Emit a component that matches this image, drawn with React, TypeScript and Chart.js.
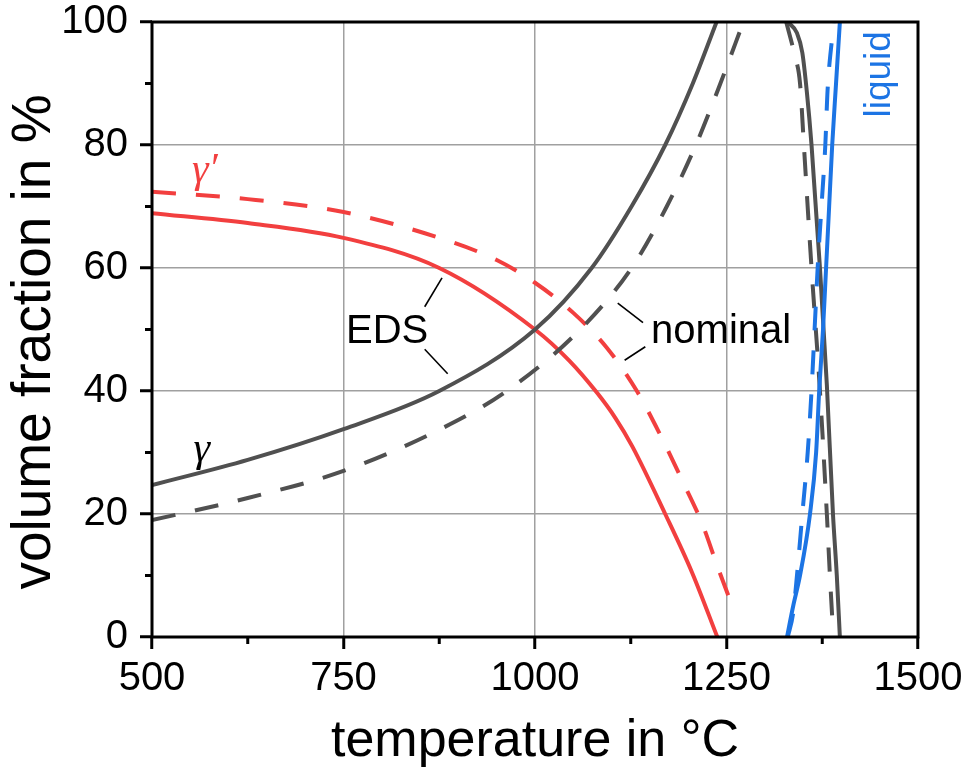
import React, { useEffect, useRef } from "react";
import { Chart, registerables } from "chart.js";

Chart.register(...registerables);

// ---- data (temperature °C, volume fraction %) ----
const gammaEdsT = [500, 625, 750, 875, 1000, 1074, 1126, 1170, 1206, 1237, 1285, 1330, 1342, 1349, 1355, 1361, 1372, 1381, 1389, 1394, 1398];
const gammaEdsV = [24.7, 28.8, 33.8, 40, 50, 60, 70, 80, 90, 100, null, 100, 98.2, 95, 88.5, 80, 60, 41, 20, 10, 0];

const gammaNomT = [500, 625, 750, 875, 963, 1059, 1126, 1172, 1210, 1242, 1272, 1300, 1328, 1339, 1346, 1351, 1361, 1372, 1381, 1385, 1389];
const gammaNomV = [19, 22.6, 27, 33.7, 40, 50, 60, 70, 80, 90, 100, null, 100, 94.6, 90, 80, 60, 40, 20, 10, 1];

const gpEdsT = [500, 625, 750, 875, 1000, 1045, 1081, 1105, 1127, 1170, 1205, 1238];
const gpEdsV = [68.9, 67.3, 64.9, 60, 50, 44.9, 39.7, 35.6, 31, 20, 10.5, 0];

const gpNomT = [500, 625, 750, 875, 950, 1000, 1050, 1094, 1133, 1163, 1192, 1218, 1239, 1261];
const gpNomV = [72.4, 71.2, 69.1, 64.9, 61.3, 57.6, 52.7, 47, 40, 33, 25.5, 18.5, 11.2, 3.9];

const liqEdsT = [1329, 1337, 1346, 1359, 1367, 1371, 1376, 1380, 1384, 1388, 1393, 1398];
const liqEdsV = [0, 5, 10, 20, 30, 40, 50, 60, 70, 80, 90, 100];

const liqNomT = [1330, 1337, 1342, 1349, 1356, 1361, 1365, 1369, 1374, 1379, 1382, 1388, 1390];
const liqNomV = [0, 3.9, 10, 20, 30, 40, 50, 60, 70, 80, 89, 97.6, 100];

const xTicks = [500, 750, 1000, 1250, 1500];
const yTicks = [0, 20, 40, 60, 80, 100];
const xMinor = [625, 875, 1125, 1375];
const yMinor = [10, 30, 50, 70, 90];

const xTitle = "temperature in °C";
const yTitle = "volume fraction in %";

const GRAY = "#505050";
const RED = "#f23f3f";
const BLUE = "#1c74e4";
const SANS = "'Liberation Sans', Arial, sans-serif";
const SERIF = "'Liberation Serif', 'Times New Roman', serif";

const zip = (xs: number[], ys: (number | null)[]) => xs.map((x, i) => ({ x, y: ys[i] }));

const decorations = {
  id: "decorations",
  afterDatasetsDraw(chart: any) {
    const { ctx, chartArea, scales } = chart;
    const X = (v: number) => scales.x.getPixelForValue(v);
    const Y = (v: number) => scales.y.getPixelForValue(v);
    ctx.save();
    // leader lines
    ctx.strokeStyle = "#000";
    ctx.lineWidth = 1.6;
    const seg = (a: number[], b: number[]) => {
      ctx.beginPath();
      ctx.moveTo(X(a[0]), Y(a[1]));
      ctx.lineTo(X(b[0]), Y(b[1]));
      ctx.stroke();
    };
    seg([878.6, 58.4], [856, 53.7]);
    seg([856, 46.8], [886, 42.8]);
    seg([1108, 54.3], [1141, 51.1]);
    seg([1117, 45.0], [1144, 47.2]);

    ctx.fillStyle = "#000";
    ctx.textAlign = "center";
    ctx.textBaseline = "middle";
    ctx.font = `40px ${SANS}`;
    ctx.fillText("EDS", X(807), Y(49.6));
    ctx.fillText("nominal", X(1243), Y(49.6));

    ctx.font = `italic 42px ${SERIF}`;
    ctx.fillText("γ", X(565), Y(30.4));
    ctx.fillStyle = RED;
    ctx.fillText("γ′", X(569), Y(75.8));

    // liquid label rotated
    ctx.save();
    ctx.translate(X(1463), Y(91.5));
    ctx.rotate(-Math.PI / 2);
    ctx.fillStyle = BLUE;
    ctx.font = `37px ${SANS}`;
    ctx.textBaseline = "alphabetic";
    ctx.fillText("liquid", 0, 0);
    ctx.restore();

    // y axis title
    ctx.save();
    ctx.translate(35, 342);
    ctx.rotate(-Math.PI / 2);
    ctx.fillStyle = "#000";
    ctx.font = `55px ${SANS}`;
    ctx.textBaseline = "middle";
    ctx.fillText(yTitle, 0, 0);
    ctx.restore();

    // frame
    ctx.strokeStyle = "#000";
    ctx.lineWidth = 3;
    ctx.strokeRect(chartArea.left, chartArea.top, chartArea.right - chartArea.left, chartArea.bottom - chartArea.top);
    // minor ticks
    xMinor.forEach((v) => {
      ctx.beginPath();
      ctx.moveTo(X(v), chartArea.bottom);
      ctx.lineTo(X(v), chartArea.bottom + 7);
      ctx.stroke();
    });
    yMinor.forEach((v) => {
      ctx.beginPath();
      ctx.moveTo(chartArea.left, Y(v));
      ctx.lineTo(chartArea.left - 7, Y(v));
      ctx.stroke();
    });
    ctx.restore();
  },
};

export default function App() {
  const ref = useRef<HTMLCanvasElement>(null);
  useEffect(() => {
    if (!ref.current) return;
    const lineBase = { pointRadius: 0, borderWidth: 4, cubicInterpolationMode: "monotone" as const, spanGaps: false, fill: false };
    const chart = new Chart(ref.current, {
      type: "line",
      data: {
        datasets: [
          { ...lineBase, label: "liquid EDS", data: zip(liqEdsT, liqEdsV), borderColor: BLUE },
          { ...lineBase, label: "liquid nominal", data: zip(liqNomT, liqNomV), borderColor: BLUE, borderDash: [24, 20] },
          { ...lineBase, label: "γ EDS", data: zip(gammaEdsT, gammaEdsV), borderColor: GRAY },
          { ...lineBase, label: "γ nominal", data: zip(gammaNomT, gammaNomV), borderColor: GRAY, borderDash: [24, 20] },
          { ...lineBase, label: "γ′ EDS", data: zip(gpEdsT, gpEdsV), borderColor: RED },
          { ...lineBase, label: "γ′ nominal", data: zip(gpNomT, gpNomV), borderColor: RED, borderDash: [24, 20] },
        ] as any,
      },
      options: {
        animation: false,
        responsive: true,
        maintainAspectRatio: false,
        layout: { padding: { top: 22, right: 50, left: 0, bottom: 0 } },
        plugins: { legend: { display: false }, tooltip: { enabled: false } },
        scales: {
          x: {
            type: "linear",
            min: 500,
            max: 1500,
            afterBuildTicks: (s: any) => { s.ticks = xTicks.map((v) => ({ value: v })); },
            afterFit: (s: any) => { s.height = 135; s.paddingLeft = 0; s.paddingRight = 0; },
            grid: { color: "#a0a0a0", lineWidth: 1.5, tickColor: "#000", tickLength: 12, tickWidth: 3 },
            border: { display: false },
            ticks: { color: "#000", padding: 10, font: { family: SANS, size: 40, lineHeight: 1 }, maxRotation: 0, autoSkip: false, callback: (v: any) => String(v) },
            title: { display: true, text: xTitle, color: "#000", font: { family: SANS, size: 52, lineHeight: 1 }, padding: { top: 0, bottom: 4 } },
          },
          y: {
            type: "linear",
            min: 0,
            max: 100,
            afterBuildTicks: (s: any) => { s.ticks = yTicks.map((v) => ({ value: v })); },
            afterFit: (s: any) => { s.width = 152; s.paddingTop = 0; s.paddingBottom = 0; },
            grid: { color: "#a0a0a0", lineWidth: 1.5, tickColor: "#000", tickLength: 12, tickWidth: 3 },
            border: { display: false },
            ticks: { color: "#000", padding: 12, font: { family: SANS, size: 40, lineHeight: 1 }, autoSkip: false, callback: (v: any) => String(v) },
            title: { display: false },
          },
        },
      },
      plugins: [decorations],
    });
    return () => chart.destroy();
  }, []);
  return (
    <div style={{ position: "absolute", left: 0, top: 0, width: 968, height: 772, background: "#fff" }}>
      <canvas ref={ref} />
    </div>
  );
}
